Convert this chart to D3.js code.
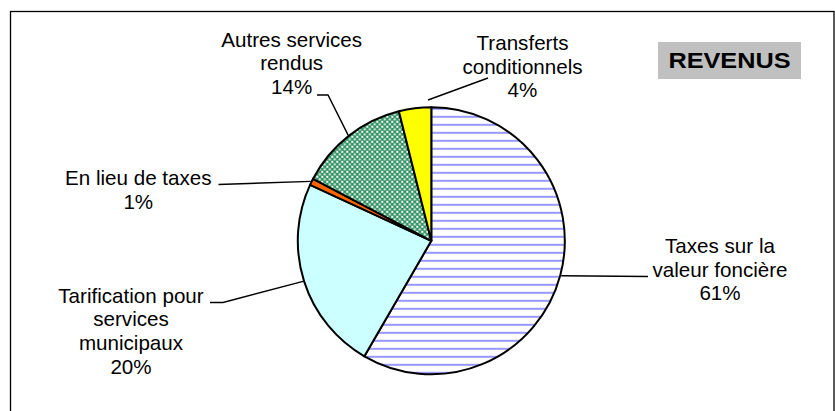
<!DOCTYPE html>
<html>
<head>
  <meta charset="utf-8">
  <title>Revenus</title>
  <style>
    body {
      margin: 0;
      background: #ffffff;
    }
    #chart text {
      font-family: "Liberation Sans", Arial, sans-serif;
    }
  </style>
  <script src="https://d3js.org/d3.v7.min.js"></script>
</head>
<body>
  <svg id="chart" width="835" height="411"></svg>

  <script>
    // slice data, clockwise from 12 o'clock (sizes as drawn in the picture)
    var categories = ["Taxes sur la valeur foncière", "Tarification pour services municipaux", "En lieu de taxes", "Autres services rendus", "Transferts conditionnels"];
    var sliceValues = [58.3, 23.5, 0.8, 13.4, 3.9];
    var labelLines = [
      ["Taxes sur la", "valeur foncière"],
      ["Tarification pour", "services", "municipaux"],
      ["En lieu de taxes"],
      ["Autres services", "rendus"],
      ["Transferts", "conditionnels"]
    ];
    var percentLabels = ["61%", "20%", "1%", "14%", "4%"];
    var chartTitle = "REVENUS";

    var width = 835,
        height = 411;

    var cx = 431.3,
        cy = 240.8,
        radius = 133.5;

    var fills = ["url(#hlines)", "#ccffff", "#ff6600", "url(#checker)", "#ffff00"];

    // label layout: centre x, first baseline, leader polyline end points
    var labelLayout = [
      { x: 720, y: 253, leader: [[648, 276.5]] },
      { x: 131, y: 302.7, leader: [[223, 302.5], [210, 302.5]] },
      { x: 138.3, y: 185, leader: [[218.5, 184.5]] },
      { x: 291.7, y: 46.7, leader: [[328, 95], [317, 95]] },
      { x: 522.5, y: 50, leader: [[488, 78]], start: [428, 100] }
    ];
    var lineHeight = 23.7;

    var svg = d3.select("#chart")
        .attr("width", width)
        .attr("height", height);

    var defs = svg.append("defs");

    var hl = defs.append("pattern")
        .attr("id", "hlines")
        .attr("patternUnits", "userSpaceOnUse")
        .attr("width", 8)
        .attr("height", 8);
    hl.append("rect").attr("width", 8).attr("height", 8).attr("fill", "#ffffff");
    hl.append("rect").attr("y", 3).attr("width", 8).attr("height", 2).attr("fill", "#9999ff");

    var ck = defs.append("pattern")
        .attr("id", "checker")
        .attr("patternUnits", "userSpaceOnUse")
        .attr("width", 5)
        .attr("height", 5);
    ck.append("rect").attr("width", 5).attr("height", 5).attr("fill", "#2f9060");
    ck.append("rect").attr("x", 0).attr("y", 0).attr("width", 2).attr("height", 2).attr("fill", "#ffffff");
    ck.append("rect").attr("x", 2.5).attr("y", 2.5).attr("width", 2).attr("height", 2).attr("fill", "#ffffff");

    svg.append("rect")
        .attr("width", width)
        .attr("height", height)
        .attr("fill", "#ffffff");

    // frame (right and bottom edges fall outside the picture)
    svg.append("rect")
        .attr("x", 10.5)
        .attr("y", 11.5)
        .attr("width", 823.5)
        .attr("height", 420)
        .attr("fill", "none")
        .attr("stroke", "#000000")
        .attr("stroke-width", 1.3);

    var pie = d3.pie().sort(null).value(d => d);
    var arcs = pie(sliceValues);

    var arc = d3.arc()
        .innerRadius(0)
        .outerRadius(radius);

    var g = svg.append("g")
        .attr("transform", "translate(" + cx + "," + cy + ")");

    g.selectAll("path")
        .data(arcs)
        .join("path")
        .attr("d", arc)
        .attr("fill", (d, i) => fills[i])
        .attr("stroke", "#000000")
        .attr("stroke-width", 2)
        .attr("stroke-linejoin", "round");

    // leader lines
    var line = d3.line();
    svg.append("g")
        .selectAll("path")
        .data(arcs)
        .join("path")
        .attr("d", function(d, i) {
          var lay = labelLayout[i];
          var a = (d.startAngle + d.endAngle) / 2;
          var p0 = lay.start ? lay.start : [cx + (radius + 1) * Math.sin(a), cy - (radius + 1) * Math.cos(a)];
          return line([p0].concat(lay.leader));
        })
        .attr("fill", "none")
        .attr("stroke", "#000000")
        .attr("stroke-width", 1.4);

    // labels
    var labels = svg.append("g")
        .selectAll("text")
        .data(categories)
        .join("text")
        .attr("text-anchor", "middle")
        .attr("font-size", "20.6px")
        .attr("fill", "#000000");

    labels.each(function(c, i) {
      var t = d3.select(this);
      var lay = labelLayout[i];
      var rows = labelLines[i].concat([percentLabels[i]]);
      rows.forEach(function(r, k) {
        t.append("tspan")
            .attr("x", lay.x)
            .attr("y", lay.y + k * lineHeight)
            .text(r);
      });
    });

    // title box
    svg.append("rect")
        .attr("x", 658)
        .attr("y", 42)
        .attr("width", 143)
        .attr("height", 37)
        .attr("fill", "#c0c0c0");

    // bold title, a bit wider than plain Arial Bold as in the picture
    svg.append("text")
        .attr("transform", "translate(729.5,68.3) scale(1.15,1)")
        .attr("text-anchor", "middle")
        .attr("font-size", "22px")
        .attr("font-weight", "bold")
        .text(chartTitle);
  </script>
</body>
</html>
